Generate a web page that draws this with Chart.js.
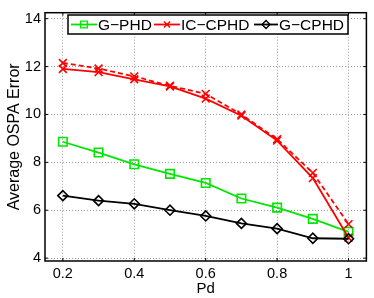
<!DOCTYPE html>
<html lang="en">
<head>
<meta charset="UTF-8" />
<title>Average OSPA Error vs Pd</title>
<script src="https://cdn.jsdelivr.net/npm/chart.js"></script>
<style>
  html, body { margin: 0; padding: 0; background: #fff; }
  #wrap { width: 374px; height: 298px; }
</style>
</head>
<body>
<div id="wrap"><canvas id="chart" width="374" height="298"></canvas></div>
<script>
  const pd = [0.2, 0.3, 0.4, 0.5, 0.6, 0.7, 0.8, 0.9, 1.0];
  const gPhd = [8.86, 8.41, 7.92, 7.52, 7.14, 6.49, 6.11, 5.64, 5.10];
  const icCphd = [11.90, 11.77, 11.47, 11.17, 10.66, 9.95, 8.91, 7.34, 4.85];
  const icCphdDash = [12.15, 11.92, 11.59, 11.20, 10.86, 10.00, 8.97, 7.56, 5.42];
  const gCphd = [6.61, 6.40, 6.27, 6.00, 5.76, 5.45, 5.23, 4.83, 4.81];
  const xTicks = [0.2, 0.4, 0.6, 0.8, 1];
  const yTicks = [4, 6, 8, 10, 12, 14];

  const FONT = '"Liberation Sans", Arial, Helvetica, sans-serif';
  const GREEN = '#00e600';
  const RED = '#ff0000';

  const pts = ys => pd.map((x, i) => ({ x, y: ys[i] }));

  function series(label, ys, color, style, radius, dash, order) {
    return {
      label,
      data: pts(ys),
      borderColor: color,
      borderWidth: 1.8,
      borderDash: dash || [],
      pointStyle: style,
      pointRadius: radius,
      pointHoverRadius: radius,
      pointBorderColor: color,
      pointBackgroundColor: 'rgba(0,0,0,0)',
      pointBorderWidth: 1.6,
      tension: 0,
      fill: false,
      order
    };
  }

  // legend entries: dataset index, line start/end, text x
  const legendItems = [
    { ds: 0, text: 'G\u2212PHD', x0: 71, x1: 97, tx: 98 },
    { ds: 2, text: 'IC\u2212CPHD', x0: 154, x1: 180, tx: 181 },
    { ds: 3, text: 'G\u2212CPHD', x0: 254, x1: 278, tx: 279 }
  ];

  function marker(ctx, style, r, x, y) {
    ctx.beginPath();
    if (style === 'rect') {
      const s = r * Math.SQRT1_2;
      ctx.rect(x - s, y - s, 2 * s, 2 * s);
    } else if (style === 'rectRot') {
      ctx.moveTo(x, y - r); ctx.lineTo(x + r, y); ctx.lineTo(x, y + r); ctx.lineTo(x - r, y); ctx.closePath();
    } else {
      const s = r * Math.SQRT1_2;
      ctx.moveTo(x - s, y - s); ctx.lineTo(x + s, y + s);
      ctx.moveTo(x + s, y - s); ctx.lineTo(x - s, y + s);
    }
    ctx.stroke();
  }

  const frame = {
    id: 'frame',
    afterDraw(chart) {
      const { ctx, chartArea: a, scales } = chart;
      ctx.save();
      ctx.strokeStyle = '#000';
      ctx.lineWidth = 1.5;
      ctx.strokeRect(a.left, a.top, a.right - a.left, a.bottom - a.top);
      // inner tick marks
      ctx.lineWidth = 1;
      ctx.beginPath();
      xTicks.forEach(v => {
        const px = scales.x.getPixelForValue(v);
        ctx.moveTo(px, a.bottom); ctx.lineTo(px, a.bottom - 3);
        ctx.moveTo(px, a.top); ctx.lineTo(px, a.top + 3);
      });
      yTicks.forEach(v => {
        const py = scales.y.getPixelForValue(v);
        ctx.moveTo(a.left, py); ctx.lineTo(a.left + 3, py);
        ctx.moveTo(a.right, py); ctx.lineTo(a.right - 3, py);
      });
      ctx.stroke();

      // legend box
      const bx = 68, by = 15, bw = 280, bh = 19, cy = by + bh / 2;
      ctx.fillStyle = '#fff';
      ctx.fillRect(bx, by, bw, bh);
      ctx.lineWidth = 1.5;
      ctx.strokeStyle = '#000';
      ctx.strokeRect(bx, by, bw, bh);
      ctx.font = '15.5px ' + FONT;
      ctx.textBaseline = 'middle';
      legendItems.forEach(it => {
        const ds = chart.data.datasets[it.ds];
        ctx.strokeStyle = ds.borderColor;
        ctx.lineWidth = 1.8;
        ctx.setLineDash([]);
        ctx.beginPath();
        ctx.moveTo(it.x0, cy); ctx.lineTo(it.x1, cy);
        ctx.stroke();
        ctx.lineWidth = 1.4;
        marker(ctx, ds.pointStyle, ds.pointRadius * 0.8, (it.x0 + it.x1) / 2, cy);
        ctx.fillStyle = '#000';
        ctx.fillText(it.text, it.tx, cy + 1);
      });
      ctx.restore();
    }
  };

  new Chart(document.getElementById('chart'), {
    type: 'line',
    data: {
      datasets: [
        series('G\u2212PHD', gPhd, GREEN, 'rect', 6, null, 3),
        series('IC\u2212CPHD (dashed)', icCphdDash, RED, 'crossRot', 5.5, [5, 3], 2),
        series('IC\u2212CPHD', icCphd, RED, 'crossRot', 5.5, null, 1),
        series('G\u2212CPHD', gCphd, '#000', 'rectRot', 5, null, 0)
      ]
    },
    options: {
      responsive: false,
      animation: false,
      layout: { padding: { top: 6, right: 4, left: 0, bottom: 0 } },
      plugins: { legend: { display: false }, tooltip: { enabled: false } },
      scales: {
        x: {
          type: 'linear',
          min: 0.15,
          max: 1.05,
          afterBuildTicks: s => { s.ticks = xTicks.map(v => ({ value: v })); },
          afterFit: s => { s.height = 37; },
          ticks: {
            color: '#000',
            font: { family: FONT, size: 14.5 },
            padding: 4,
            maxRotation: 0,
            autoSkip: false,
            callback: v => String(v)
          },
          grid: { color: '#9a9a9a', lineWidth: 1, drawTicks: false },
          border: { display: false, dash: [1, 2] },
          title: { display: true, text: 'Pd', color: '#000', font: { family: FONT, size: 15 }, padding: 0 }
        },
        y: {
          min: 3.88,
          max: 14.25,
          afterBuildTicks: s => { s.ticks = yTicks.map(v => ({ value: v })); },
          afterFit: s => { s.width = 45; },
          ticks: {
            color: '#000',
            font: { family: FONT, size: 14.5 },
            padding: 4,
            autoSkip: false
          },
          grid: { color: '#9a9a9a', lineWidth: 1, drawTicks: false },
          border: { display: false, dash: [1, 2] },
          title: {
            display: true,
            text: 'Average OSPA Error',
            color: '#000',
            font: { family: FONT, size: 16 },
            padding: { top: 5, bottom: 0 }
          }
        }
      }
    },
    plugins: [frame]
  });
</script>
</body>
</html>
